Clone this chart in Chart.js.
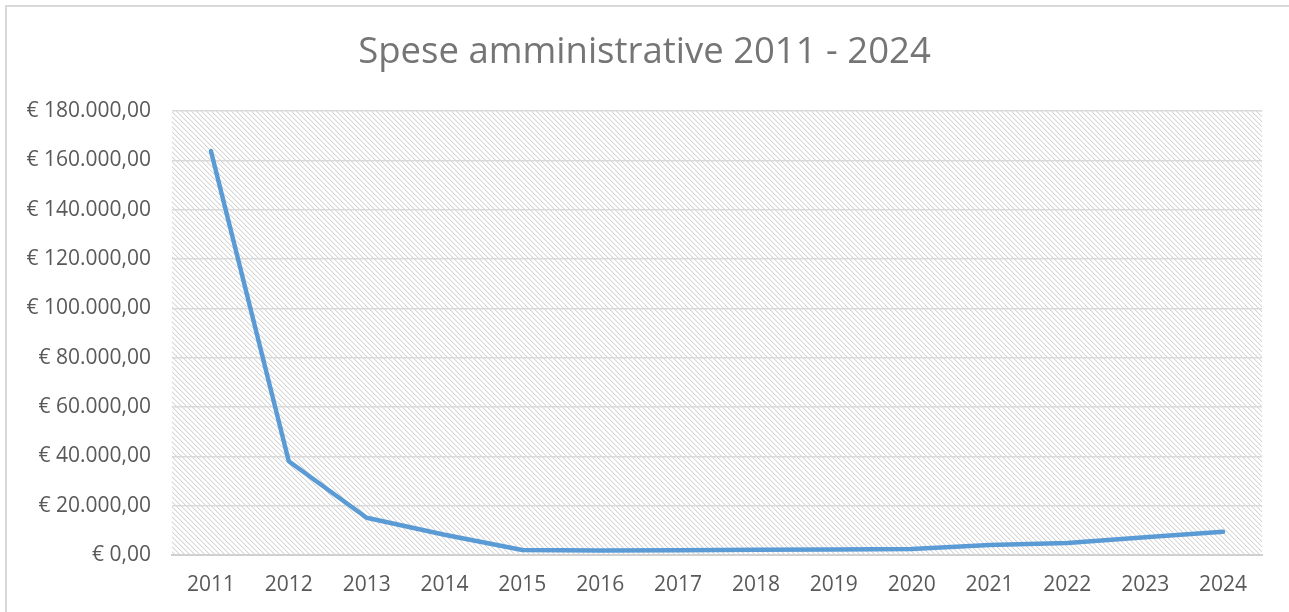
<!DOCTYPE html>
<html>
<head>
<meta charset="utf-8">
<script src="https://cdn.jsdelivr.net/npm/chart.js@4"></script>
<style>
html,body{margin:0;padding:0;background:#fff;}
#wrap{width:1289px;height:612px;position:relative;}
</style>
</head>
<body>
<div id="wrap"><canvas id="c" width="1289" height="612"></canvas></div>
<script>
const chartTitle = "Spese amministrative 2011 - 2024";
const years = ["2011","2012","2013","2014","2015","2016","2017","2018","2019","2020","2021","2022","2023","2024"];
const spese = [163800, 38000, 15100, 8200, 2000, 1800, 1900, 2100, 2200, 2400, 4100, 4900, 7200, 9400];
const yMin = 0, yMax = 180000, yStep = 20000;

function formatEuro(v){
  const parts = Math.round(v).toString().replace(/\B(?=(\d{3})+(?!\d))/g, ".");
  return "€ " + parts + ",00";
}

function makeHatch(){
  const n = 5;
  const cv = document.createElement('canvas');
  cv.width = n; cv.height = n;
  const cx = cv.getContext('2d');
  const img = cx.createImageData(n, n);
  for (let y = 0; y < n; y++){
    for (let x = 0; x < n; x++){
      const d = ((x - y) % n + n) % n;
      let g = 255;
      if (d === 0) g = 214; else if (d === 1) g = 240;
      const i = (y*n + x)*4;
      img.data[i]=g; img.data[i+1]=g; img.data[i+2]=g; img.data[i+3]=255;
    }
  }
  cx.putImageData(img, 0, 0);
  return cv;
}

const bgPlugin = {
  id: 'bg',
  beforeDraw(chart){
    const ctx = chart.ctx;
    const a = chart.chartArea;
    ctx.save();
    ctx.strokeStyle = '#d9d9d9';
    ctx.lineWidth = 2;
    ctx.beginPath();
    ctx.moveTo(6, 612); ctx.lineTo(6, 6); ctx.lineTo(1289, 6);
    ctx.stroke();
    const pat = ctx.createPattern(makeHatch(), 'repeat');
    ctx.fillStyle = pat;
    ctx.fillRect(a.left, a.top, a.right - a.left, a.bottom - a.top);
    // title centred on the whole canvas
    ctx.fillStyle = '#757575';
    ctx.font = 'normal 36.5px "Open Sans"';
    ctx.textAlign = 'center';
    ctx.textBaseline = 'middle';
    ctx.fillText(chartTitle, chart.width / 2, 53);
    ctx.restore();
  }
};

new Chart(document.getElementById('c'), {
  type: 'line',
  data: {
    labels: years,
    datasets: [{
      data: spese,
      borderColor: '#5B9BD5',
      borderWidth: 4.5,
      pointRadius: 0,
      tension: 0,
      borderCapStyle: 'round',
      borderJoinStyle: 'round',
      fill: false
    }]
  },
  options: {
    responsive: false,
    animation: false,
    devicePixelRatio: 1,
    layout: { padding: { left: 0, right: 27, top: 111, bottom: 0 } },
    plugins: {
      legend: { display: false },
      tooltip: { enabled: false },
      title: { display: false }
    },
    scales: {
      x: {
        offset: true,
        grid: { display: false, drawTicks: false },
        border: { display: true, color: '#d0d0d0', width: 2 },
        ticks: { color: '#595959', font: { family: 'Open Sans', size: 21 }, padding: 17, maxRotation: 0, autoSkip: false },
        afterFit(s){ s.height = 57; }
      },
      y: {
        min: yMin, max: yMax,
        grid: { color: '#d9d9d9', lineWidth: 1.5, drawTicks: false },
        border: { display: false },
        ticks: { stepSize: yStep, color: '#595959', font: { family: 'Open Sans', size: 21 }, padding: 21, callback: v => formatEuro(v) },
        afterFit(s){ s.width = 172; }
      }
    }
  },
  plugins: [bgPlugin]
});
</script>
</body>
</html>
